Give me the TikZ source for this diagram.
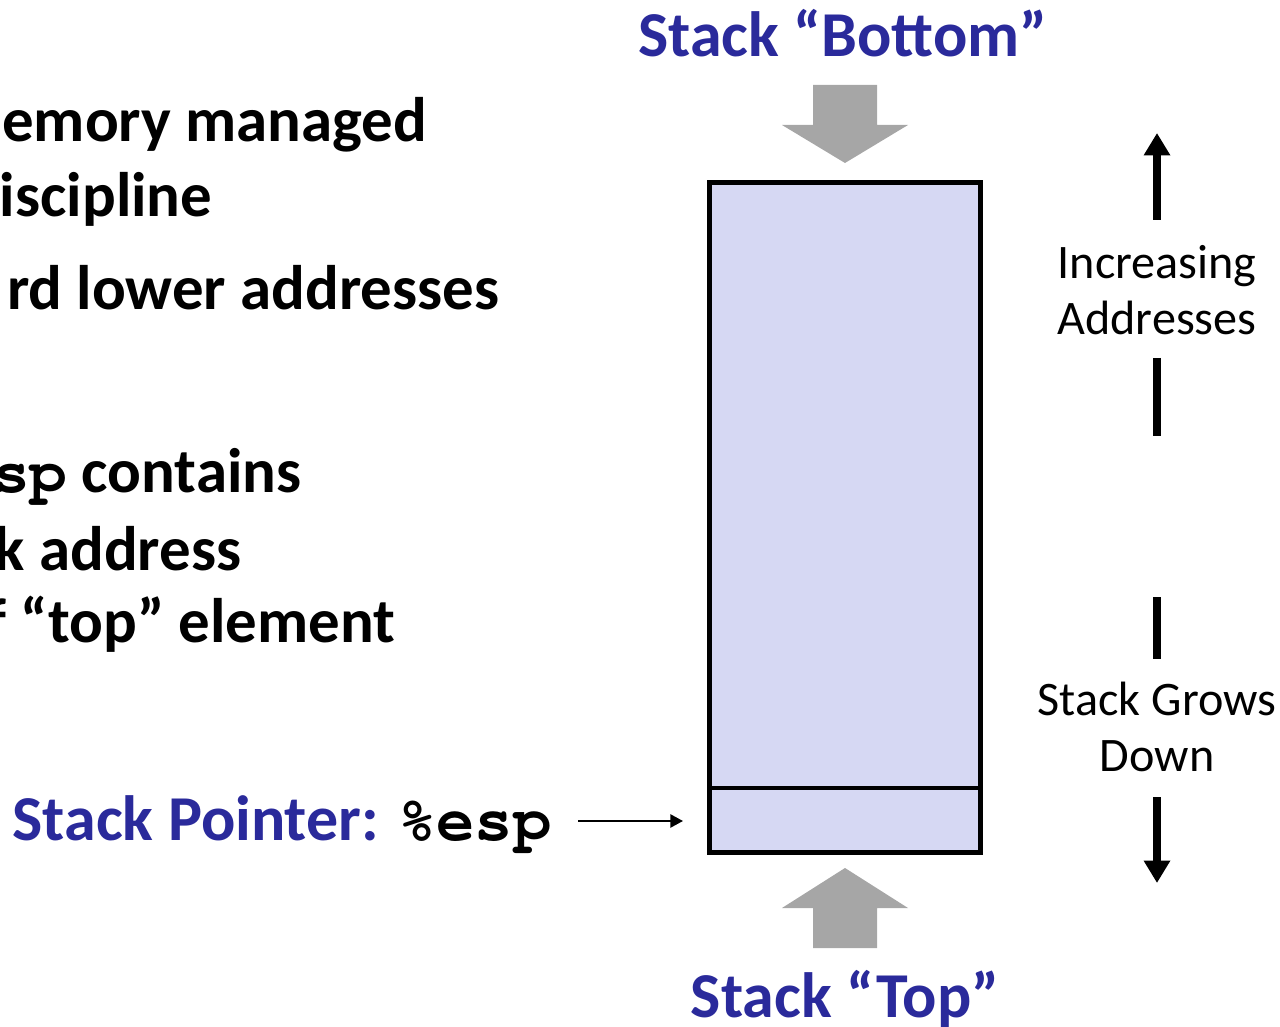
\documentclass[tikz,border=0pt]{standalone}
\usepackage{fontspec}
\setmainfont{Carlito}
\usetikzlibrary{arrows.meta}
\definecolor{slideblue}{RGB}{42,42,155}
\definecolor{stackfill}{RGB}{214,216,243}
\definecolor{blockgray}{RGB}{166,166,166}
% Courier for register names
\newcommand{\reg}[1]{{\fontencoding{T1}\fontfamily{pcr}\fontseries{b}\selectfont #1}}

\begin{document}
\begin{tikzpicture}[x=0.1mm,y=-0.1mm,
	title/.style={font=\bfseries\fontsize{18.2}{21}\selectfont, text=slideblue, inner sep=0pt},
	body/.style={font=\bfseries\fontsize{17.9}{21}\selectfont, anchor=base east, inner sep=0pt},
	side/.style={font=\fontsize{13.7}{15.9}\selectfont, align=center, inner sep=0pt},
	cell/.style={draw, line width=1.4pt, fill=stackfill, minimum width=27.1mm, inner sep=0pt},
	bigarrow/.style={line width=2.3pt, -{Triangle[width=7.2pt,length=6.4pt]}},
	bar/.style={line width=2.3pt}]
	\useasboundingbox (0,0) rectangle (1280,1027);
	% text on the left, running off the page edge
	\node[body] (l1) at (428,142) {emory managed};
	\node[body] (l2) at (213,217) {iscipline};
	\node[body] (l3) at (500,310) {rd lower addresses};
	\node[body] (l4) at (302,493) {\reg{sp} contains};
	\node[body] (l5) at (242,570) {k address};
	\node[body] (l6) at (396,642) {f “top” element};
	% the stack itself
	\node[cell, minimum height=60.55mm] (stack) at (845,485.25) {};
	\node[cell, minimum height=6.45mm] (tos) at (845,820.25) {};
	% gray block arrows
	\fill[blockgray] (813,85) -- (877,85) -- (877,125) -- (908,125) -- (845,163) -- (782,125) -- (813,125) -- cycle;
	\fill[blockgray] (813,948) -- (877,948) -- (877,908) -- (908,908) -- (845,868) -- (782,908) -- (813,908) -- cycle;
	\node[title, anchor=base] (bottom) at (843,57) {Stack “Bottom”};
	\node[title, anchor=base] (top) at (845,1017) {Stack “Top”};
	% stack pointer
	\node[title, anchor=base west] (sp) at (12,840) {Stack Pointer: \textcolor{black}{\reg{\%esp}}};
	\coordinate (ptr) at (578,821);
	\draw[line width=0.85pt, -{Triangle[width=3.6pt,length=3.6pt]}, shorten >=6.8pt] (ptr) -- (ptr -| tos.west);
	% direction labels on the right
	\node[side] (incr) at (1157,290) {Increasing\\Addresses};
	\node[side] (grow) at (1157,727) {Stack Grows\\Down};
	\coordinate (uptip) at (1157,133);
	\coordinate (downtip) at (1157,883);
	\draw[bigarrow] (1157,220) -- (uptip);
	\draw[bar] (1157,358) -- (1157,436);
	\draw[bar] (1157,597) -- (1157,659);
	\draw[bigarrow] (1157,797) -- (downtip);
\end{tikzpicture}
\end{document}
